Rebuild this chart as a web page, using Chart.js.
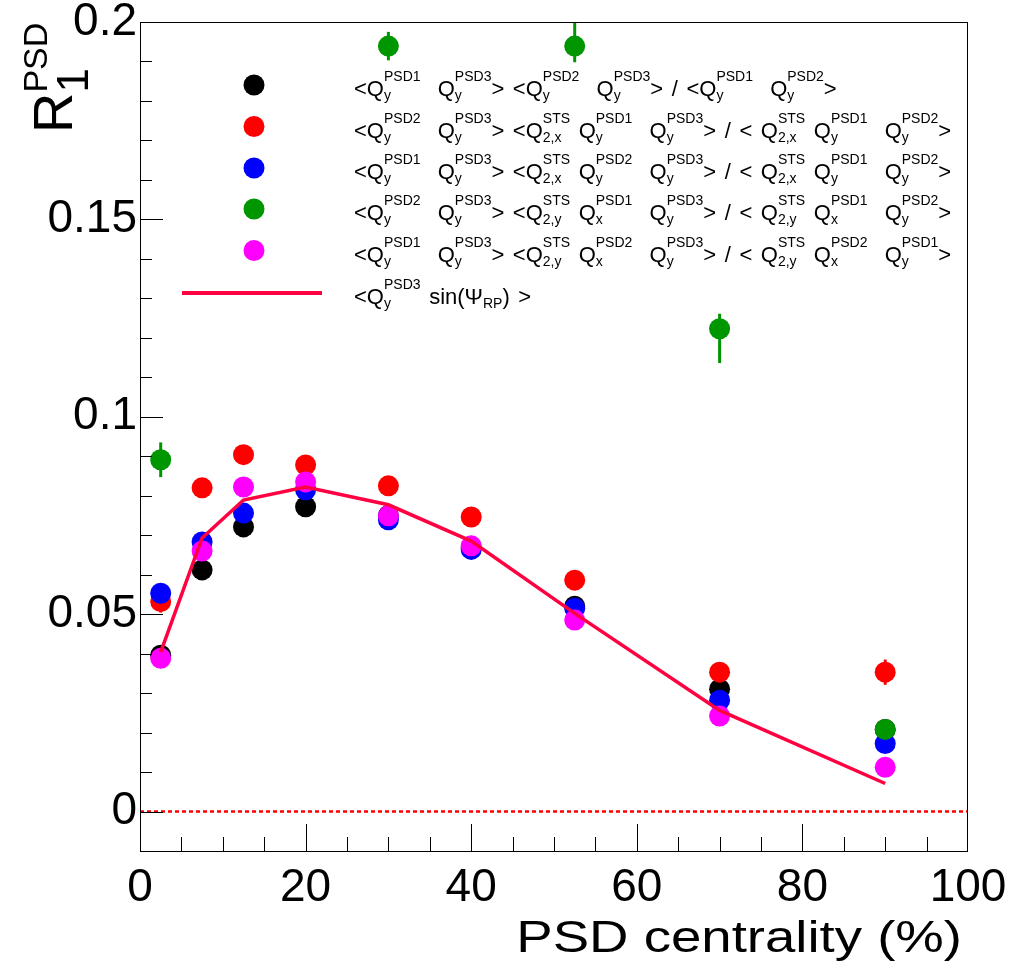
<!DOCTYPE html>
<html>
<head>
<meta charset="utf-8">
<script src="https://cdn.jsdelivr.net/npm/chart.js@4.4.1/dist/chart.umd.min.js"></script>
<style>
  html, body { margin: 0; padding: 0; background: #fff; }
  canvas { display: block; }
</style>
</head>
<body>
<canvas id="c" width="1024" height="971"></canvas>
<script>
// centrality bins (%)
const centrality = [2.5, 7.5, 12.5, 20, 30, 40, 52.5, 70, 90];

// R1 from the different 3-sub-event combinations
const black   = [0.0396, 0.0612, 0.0721, 0.0772, 0.0750, 0.0668, 0.0520, 0.0310, 0.0208];
const red     = [0.0532, 0.0820, 0.0904, 0.0878, 0.0825, 0.0746, 0.0586, 0.0353, 0.0353];
const blue    = [0.0553, 0.0683, 0.0756, 0.0815, 0.0739, 0.0664, 0.0515, 0.0282, 0.0172];
const green   = [0.0891, null, null, null, 0.1939, null, 0.1939, 0.1223, 0.0208];
const magenta = [0.0388, 0.0660, 0.0822, 0.0835, 0.0749, 0.0673, 0.0485, 0.0242, 0.0112];
// <Q sin(Psi_RP)> reference
const rpLine  = [0.0404, 0.0693, 0.0789, 0.0822, 0.0777, 0.0685, 0.0502, 0.0256, 0.0071];

// errors
const blackErr   = [0.0010, 0.0010, 0.0010, 0.0010, 0.0010, 0.0010, 0.0010, 0.0012, 0.0015];
const redErr     = [0.0028, 0.0012, 0.0012, 0.0012, 0.0012, 0.0012, 0.0014, 0.0018, 0.0032];
const blueErr    = [0.0012, 0.0010, 0.0010, 0.0010, 0.0010, 0.0010, 0.0010, 0.0012, 0.0015];
const greenErrUp = [0.0044, 0, 0, 0, 0.0036, 0, 0.0070, 0.0038, 0.0015];
const greenErrDn = [0.0044, 0, 0, 0, 0.0036, 0, 0.0041, 0.0087, 0.0015];
const magentaErr = [0.0010, 0.0010, 0.0010, 0.0010, 0.0010, 0.0010, 0.0010, 0.0012, 0.0015];

const zeroLineX = [0, 100];

const xTicks = [0, 20, 40, 60, 80, 100];
const yTicks = [0, 0.05, 0.1, 0.15, 0.2];

const legendLabels = [
    "<Q_{y}^{PSD1}  Q_{y}^{PSD3}> <Q_{y}^{PSD2}  Q_{y}^{PSD3}> / <Q_{y}^{PSD1}  Q_{y}^{PSD2}>",
    "<Q_{y}^{PSD2}  Q_{y}^{PSD3}> <Q_{2,x}^{STS} Q_{y}^{PSD1}  Q_{y}^{PSD3}> / < Q_{2,x}^{STS} Q_{y}^{PSD1}  Q_{y}^{PSD2}>",
    "<Q_{y}^{PSD1}  Q_{y}^{PSD3}> <Q_{2,x}^{STS} Q_{y}^{PSD2}  Q_{y}^{PSD3}> / < Q_{2,x}^{STS} Q_{y}^{PSD1}  Q_{y}^{PSD2}>",
    "<Q_{y}^{PSD2}  Q_{y}^{PSD3}> <Q_{2,y}^{STS} Q_{x}^{PSD1}  Q_{y}^{PSD3}> / < Q_{2,y}^{STS} Q_{x}^{PSD1}  Q_{y}^{PSD2}>",
    "<Q_{y}^{PSD1}  Q_{y}^{PSD3}> <Q_{2,y}^{STS} Q_{x}^{PSD2}  Q_{y}^{PSD3}> / < Q_{2,y}^{STS} Q_{x}^{PSD2}  Q_{y}^{PSD1}>",
    "<Q_{y}^{PSD3} sin(\u03A8_{RP}) >"
];

const FONT = "'Liberation Sans', Arial, Helvetica, sans-serif";
const GREEN = '#009600';
const LINE_COL = 'rgb(255, 0, 64)';

function pts(ys) {
    return centrality.map((x, i) => ({x: x, y: ys[i]})).filter(p => p.y !== null);
}

function markerSet(label, ys, errUp, errDn, color, order) {
    return {
        label: label,
        data: pts(ys),
        yValues: ys,
        errUp: errUp,
        errDn: errDn,
        backgroundColor: color,
        borderColor: color,
        pointRadius: 10.5,
        pointHoverRadius: 10.5,
        borderWidth: 0,
        showLine: false,
        order: order
    };
}

// tiny TLatex-ish parser: plain runs and stacked sub/sup blocks
function parseLatex(str) {
    const items = [];
    let i = 0, buf = '';
    while (i < str.length) {
        const c = str[i];
        if (c === '_' || c === '^') {
            i++;
            let g;
            if (str[i] === '{') {
                const j = str.indexOf('}', i);
                g = str.slice(i + 1, j);
                i = j + 1;
            } else {
                g = str[i];
                i++;
            }
            if (buf) { items.push({text: buf}); buf = ''; }
            let last = items[items.length - 1];
            if (!last || !last.script) {
                last = {script: true, sub: '', sup: ''};
                items.push(last);
            }
            if (c === '_') last.sub = g; else last.sup = g;
        } else {
            buf += c;
            i++;
        }
    }
    if (buf) items.push({text: buf});
    return items;
}

function drawRich(ctx, str, o) {
    let cx = 0;
    const subSize = o.subSize || o.small;
    ctx.save();
    ctx.textBaseline = 'alphabetic';
    ctx.textAlign = 'left';
    ctx.fillStyle = o.color || '#000';
    for (const it of parseLatex(str)) {
        if (it.script) {
            ctx.font = o.small + 'px ' + FONT;
            const wSup = ctx.measureText(it.sup).width;
            if (it.sup) ctx.fillText(it.sup, cx, o.supDy);
            ctx.font = subSize + 'px ' + FONT;
            const wSub = ctx.measureText(it.sub).width;
            if (it.sub) ctx.fillText(it.sub, cx, o.subDy);
            cx += Math.max(wSup, wSub);
        } else {
            ctx.font = o.size + 'px ' + FONT;
            for (const part of it.text.split(/( )/)) {
                if (part === ' ') {
                    cx += o.space;
                } else if (part) {
                    ctx.fillText(part, cx, 0);
                    cx += ctx.measureText(part).width;
                }
            }
        }
    }
    ctx.restore();
    return cx;
}

const frameAndDecor = {
    id: 'frameAndDecor',
    beforeDatasetsDraw(chart) {
        // error bars under the markers
        const ctx = chart.ctx;
        const xs = chart.scales.x, ys = chart.scales.y;
        const area = chart.chartArea;
        ctx.save();
        ctx.beginPath();
        ctx.rect(area.left, area.top, area.right - area.left, area.bottom - area.top);
        ctx.clip();
        chart.data.datasets.forEach(ds => {
            if (!ds.errUp) return;
            ctx.strokeStyle = ds.borderColor;
            ctx.lineWidth = 3;
            centrality.forEach((c, i) => {
                const v = ds.yValues[i];
                if (v === null) return;
                const px = xs.getPixelForValue(c);
                ctx.beginPath();
                ctx.moveTo(px, ys.getPixelForValue(v + ds.errUp[i]));
                ctx.lineTo(px, ys.getPixelForValue(v - ds.errDn[i]));
                ctx.stroke();
            });
        });
        ctx.restore();
    },
    afterDraw(chart) {
        const ctx = chart.ctx;
        const xs = chart.scales.x, ys = chart.scales.y;
        const a = chart.chartArea;
        ctx.save();
        // frame
        ctx.strokeStyle = '#000';
        ctx.lineWidth = 1;
        ctx.strokeRect(a.left + 0.5, a.top + 0.5, a.right - a.left - 1, a.bottom - a.top);
        // y ticks (inside)
        ctx.beginPath();
        for (let k = 0; k <= 19; k++) {
            const py = Math.round(ys.getPixelForValue(k / 100)) + 0.5;
            const len = (k % 5 === 0) ? 23 : 12;
            ctx.moveTo(a.left, py);
            ctx.lineTo(a.left + len, py);
        }
        // x ticks (inside)
        for (let v = 5; v < 100; v += 5) {
            const px = Math.round(xs.getPixelForValue(v)) + 0.5;
            const len = (v % 20 === 0) ? 27 : 14;
            ctx.moveTo(px, a.bottom);
            ctx.lineTo(px, a.bottom - len);
        }
        ctx.stroke();

        // x title
        ctx.save();
        const title = 'PSD centrality (%)';
        ctx.font = '44px ' + FONT;
        const kx = 1.24;
        const w = ctx.measureText(title).width * kx;
        ctx.translate(962 - w, 952);
        ctx.scale(kx, 1);
        ctx.fillStyle = '#000';
        ctx.textBaseline = 'alphabetic';
        ctx.fillText(title, 0, 0);
        ctx.restore();

        // y title, rotated
        ctx.save();
        ctx.translate(72, 133);
        ctx.rotate(-Math.PI / 2);
        drawRich(ctx, 'R_{1}^{PSD}', {size: 56, small: 34, subSize: 44, supDy: -25, subDy: 16, space: 10});
        ctx.restore();

        // legend
        const legendCols = ['#000000', '#ff0000', '#0000ff', GREEN, '#ff00ff'];
        const rowY = [85, 126.5, 168, 209, 250.5, 293];
        legendCols.forEach((col, i) => {
            ctx.beginPath();
            ctx.fillStyle = col;
            ctx.arc(254, rowY[i], 10.5, 0, Math.PI * 2);
            ctx.fill();
        });
        ctx.beginPath();
        ctx.strokeStyle = LINE_COL;
        ctx.lineWidth = 4;
        ctx.moveTo(182, rowY[5]);
        ctx.lineTo(322, rowY[5]);
        ctx.stroke();
        legendLabels.forEach((lab, i) => {
            ctx.save();
            ctx.translate(354, rowY[i] + 11);
            drawRich(ctx, lab, {size: 22, small: 14, supDy: -15, subDy: 4, space: 8.6});
            ctx.restore();
        });
        ctx.restore();
    }
};

const ctx = document.getElementById('c').getContext('2d');

const datasets = [
    {
        label: 'RP',
        data: pts(rpLine),
        showLine: true,
        borderColor: LINE_COL,
        backgroundColor: LINE_COL,
        borderWidth: 3.5,
        pointRadius: 0,
        tension: 0,
        order: 0
    },
    markerSet('magenta', magenta, magentaErr, magentaErr, '#ff00ff', 1),
    markerSet('green', green, greenErrUp, greenErrDn, GREEN, 2),
    markerSet('blue', blue, blueErr, blueErr, '#0000ff', 3),
    markerSet('red', red, redErr, redErr, '#ff0000', 4),
    markerSet('black', black, blackErr, blackErr, '#000000', 5),
    {
        label: 'zero',
        data: zeroLineX.map(x => ({x: x, y: 0})),
        showLine: true,
        borderColor: '#ff0000',
        borderWidth: 2.5,
        borderDash: [4, 3],
        pointRadius: 0,
        order: 6
    }
];

new Chart(ctx, {
    type: 'scatter',
    data: {datasets: datasets},
    options: {
        responsive: false,
        animation: false,
        events: [],
        layout: {padding: {top: 22, right: 56, left: 0, bottom: 0}},
        plugins: {
            legend: {display: false},
            tooltip: {enabled: false}
        },
        scales: {
            x: {
                type: 'linear',
                min: 0,
                max: 100,
                afterBuildTicks: s => { s.ticks = xTicks.map(v => ({value: v})); },
                afterFit: s => { s.height = 120; },
                grid: {display: false, drawTicks: false},
                border: {display: false},
                ticks: {
                    color: '#000',
                    font: {size: 46, family: FONT},
                    padding: 10,
                    maxRotation: 0,
                    autoSkip: false
                }
            },
            y: {
                type: 'linear',
                min: -0.01,
                max: 0.2,
                afterBuildTicks: s => { s.ticks = yTicks.map(v => ({value: v})); },
                afterFit: s => { s.width = 140; },
                grid: {display: false, drawTicks: false},
                border: {display: false},
                ticks: {
                    color: '#000',
                    font: {size: 46, family: FONT, lineHeight: 0.8},
                    padding: 3,
                    callback: v => String(v)
                }
            }
        }
    },
    plugins: [frameAndDecor]
});
</script>
</body>
</html>
